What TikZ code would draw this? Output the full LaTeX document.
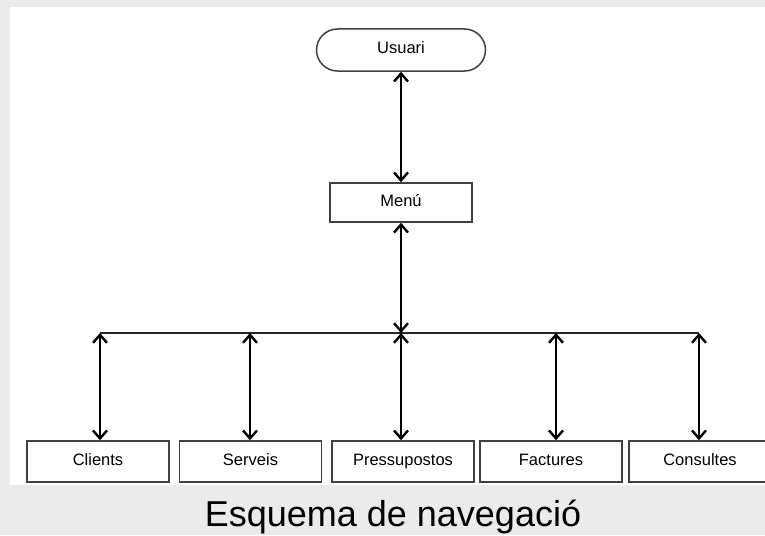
\documentclass[tikz,border=0pt]{standalone}
\usepackage{fontspec}
\setmainfont{Liberation Sans}
\usetikzlibrary{arrows.meta}

\tikzset{
  box/.style={draw=black!75, line width=1.5pt, fill=white, minimum width=142pt,
    minimum height=41pt, inner sep=0pt, text height=11.5pt, text depth=3.5pt,
    text=black, font=\fontsize{16.5}{18}\selectfont},
  startbox/.style={box, rounded corners=21pt, minimum width=169pt, minimum height=42pt},
  conn/.style={line width=2pt, {Straight Barb[length=8pt,width=14pt,line width=2.4pt]}-{Straight Barb[length=8pt,width=14pt,line width=2.4pt]}},
  busline/.style={line width=2pt, black!85}
}

\begin{document}
\begin{tikzpicture}[x=1pt,y=-1pt]
    \useasboundingbox (0,0) rectangle (765,535);

    % Background
    \fill[black!8] (0,0) rectangle (765,535);
    \fill[white] (10,7) rectangle (765,485);

    % Nodes
    \node[startbox] (usuari) at (401,50) {Usuari};
    \node[box, minimum height=39pt] (menu) at (401,202.5) {Menú};

    \node[box] (clients) at (98,461.5) {Clients};
    \node[box] (serveis) at (250.5,461.5) {Serveis};
    \node[box] (pressupostos) at (403,461.5) {Pressupostos};
    \node[box] (factures) at (551,461.5) {Factures};
    \node[box] (consultes) at (700,461.5) {Consultes};

    % Bus
    \coordinate (b1) at (100,333);
    \coordinate (b2) at (250,333);
    \coordinate (b3) at (401,333);
    \coordinate (b4) at (556,333);
    \coordinate (b5) at (699,333);
    \draw[busline] (b1) -- (b5);

    % Connectors
    \draw[conn] (usuari.south) -- (menu.north);
    \draw[conn] (menu.south) -- (b3);
    \draw[conn] (b1) -- (b1 |- clients.north);
    \draw[conn] (b2) -- (b2 |- serveis.north);
    \draw[conn] (b3) -- (b3 |- pressupostos.north);
    \draw[conn] (b4) -- (b4 |- factures.north);
    \draw[conn] (b5) -- (b5 |- consultes.north);

    % Caption
    \node[anchor=base, font=\fontsize{36}{40}\selectfont] (caption) at (393,526) {Esquema de navegació};
\end{tikzpicture}
\end{document}
